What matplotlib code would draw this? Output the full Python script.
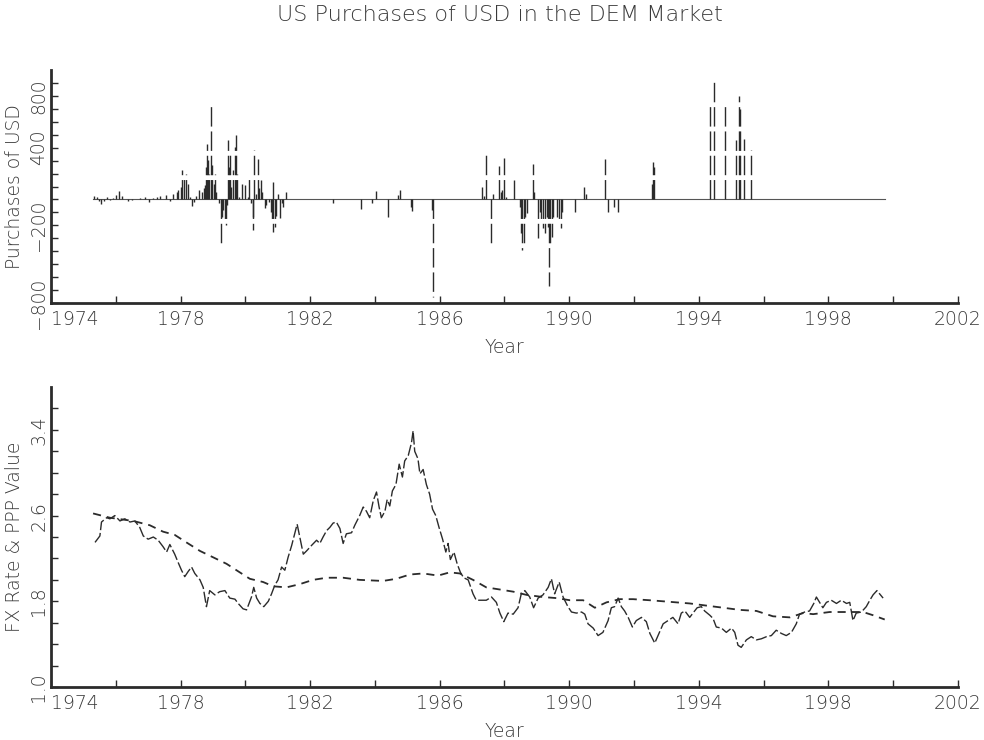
import numpy as np
import matplotlib
matplotlib.use('Agg')
import matplotlib.pyplot as plt

# ---- intervention data (year, purchases of USD, millions) ----
buy_year = [1975.34, 1975.41, 1975.47, 1975.53, 1975.63, 1975.72, 1975.82, 1975.92,
            1976.02, 1976.11, 1976.18, 1976.38, 1976.49, 1976.74, 1976.90, 1977.03,
            1977.16, 1977.26, 1977.36, 1977.54, 1977.67, 1977.77, 1977.88, 1977.93,
            1978.00, 1978.03, 1978.10, 1978.16, 1978.22, 1978.29, 1978.36, 1978.42,
            1978.49, 1978.58, 1978.65, 1978.72, 1978.77, 1978.80, 1978.83, 1978.86,
            1978.89, 1978.94, 1978.98, 1979.03, 1979.07, 1979.11, 1979.19, 1979.24,
            1979.29, 1979.32, 1979.36, 1979.39, 1979.42, 1979.45, 1979.49, 1979.53,
            1979.57, 1979.61, 1979.67, 1979.71, 1979.75, 1979.81, 1979.91, 1979.99,
            1980.07, 1980.11, 1980.16, 1980.23, 1980.25, 1980.27, 1980.32, 1980.39,
            1980.43, 1980.48, 1980.53, 1980.60, 1980.65, 1980.74, 1980.78, 1980.82,
            1980.85, 1980.87, 1980.91, 1980.96, 1981.00, 1981.07, 1981.12, 1981.17,
            1981.25,
            1982.71, 1983.57, 1983.92, 1984.02, 1984.39, 1984.72, 1984.79, 1985.10,
            1985.16, 1985.75, 1985.79,
            1987.31, 1987.36, 1987.42, 1987.59, 1987.66, 1987.82, 1987.88, 1987.93,
            1987.99, 1988.04, 1988.28, 1988.47, 1988.50, 1988.54, 1988.59, 1988.64,
            1988.70, 1988.88, 1988.90, 1989.04, 1989.09, 1989.14, 1989.19, 1989.24,
            1989.30, 1989.35, 1989.38, 1989.42, 1989.47, 1989.50, 1989.62, 1989.69,
            1989.74, 1989.78, 1990.17, 1990.46, 1990.51, 1991.11, 1991.20, 1991.37,
            1991.52, 1992.55, 1992.59, 1992.63,
            1994.34, 1994.47, 1994.82, 1995.16, 1995.24, 1995.27, 1995.41, 1995.62]
buy_amount = [30, 20, -15, -36, -10, 20, -8, 15,
              33, 64, 30, -15, -8, 15, 20, -20,
              10, 20, 25, 36, -10, 46, 59, 72,
              97, 226, 162, 200, 123, 20, -51, -20,
              30, 72, 60, 85, 110, 251, 430, 303,
              200, 726, 264, 120, 200, 60, -31, -351,
              -133, -82, -159, -197, -40, 456, 251, 341,
              97, 226, 405, 495, 200, 20, 123, 110,
              20, 187, -26, -133, -236, 380, 46, 315,
              85, 149, 59, -69, -40, -20, -95, -185,
              136, -249, -210, -130, 46, -146, -30, -56,
              59,
              -31, -77, -31, 64, -133, 33, 72, -56,
              -87, -82, -754,
              97, 30, 340, -364, 46, 256, 60, 72,
              320, 20, 154, -56, -262, -390, -338, -133,
              -108, 277, 59, -300, -100, -159, -223, -262,
              -133, -210, -672, -338, -287, -133, -133, -172,
              -223, -100, -100, 97, 40, 310, -95, -56,
              -95, 123, 290, 251,
              738, 918, 756, 456, 802, 700, 469, 385]
sample_start = 1975.30
sample_end = 1999.74

# ---- DEM/USD exchange rate ----
fx_year = [1975.36, 1975.51, 1975.56, 1975.72, 1975.82, 1975.97, 1976.13, 1976.28,
           1976.44, 1976.59, 1976.74, 1976.85, 1977.00, 1977.16, 1977.31, 1977.46,
           1977.57, 1977.67, 1977.82, 1977.93, 1978.03, 1978.13, 1978.24, 1978.34,
           1978.44, 1978.60, 1978.70, 1978.80, 1978.90, 1979.06, 1979.21, 1979.37,
           1979.52, 1979.68, 1979.78, 1979.93, 1980.04, 1980.19, 1980.26, 1980.35,
           1980.45, 1980.57, 1980.71, 1980.81, 1980.91, 1981.01, 1981.12, 1981.22,
           1981.32, 1981.43, 1981.53, 1981.60, 1981.68, 1981.79, 1981.89, 1982.04,
           1982.20, 1982.30, 1982.40, 1982.51, 1982.61, 1982.71, 1982.81, 1982.92,
           1983.02, 1983.12, 1983.28, 1983.38, 1983.53, 1983.64, 1983.74, 1983.84,
           1983.95, 1984.05, 1984.13, 1984.20, 1984.31, 1984.38, 1984.46, 1984.54,
           1984.65, 1984.75, 1984.85, 1984.92, 1985.03, 1985.13, 1985.18, 1985.23,
           1985.33, 1985.39, 1985.49, 1985.59, 1985.69, 1985.78, 1985.88, 1985.98,
           1986.09, 1986.19, 1986.26, 1986.33, 1986.44, 1986.54, 1986.64, 1986.74,
           1986.88, 1987.03, 1987.13, 1987.29, 1987.44, 1987.60, 1987.75, 1987.86,
           1987.98, 1988.11, 1988.27, 1988.42, 1988.52, 1988.63, 1988.78, 1988.90,
           1989.04, 1989.19, 1989.35, 1989.45, 1989.55, 1989.69, 1989.81, 1989.96,
           1990.07, 1990.22, 1990.38, 1990.48, 1990.58, 1990.74, 1990.89, 1991.04,
           1991.20, 1991.30, 1991.40, 1991.51, 1991.61, 1991.71, 1991.82, 1991.95,
           1992.07, 1992.23, 1992.38, 1992.49, 1992.64, 1992.74, 1992.90, 1993.05,
           1993.20, 1993.36, 1993.46, 1993.57, 1993.72, 1993.82, 1993.95, 1994.08,
           1994.18, 1994.34, 1994.44, 1994.54, 1994.70, 1994.85, 1995.01, 1995.11,
           1995.21, 1995.31, 1995.47, 1995.62, 1995.78, 1995.93, 1996.09, 1996.24,
           1996.39, 1996.55, 1996.70, 1996.86, 1997.01, 1997.11, 1997.27, 1997.42,
           1997.55, 1997.63, 1997.73, 1997.83, 1997.94, 1998.09, 1998.25, 1998.40,
           1998.56, 1998.66, 1998.76, 1998.86, 1999.02, 1999.17, 1999.28, 1999.38,
           1999.50, 1999.58, 1999.69]
fx_rate = [2.35, 2.41, 2.54, 2.58, 2.57, 2.60, 2.55, 2.57,
           2.54, 2.55, 2.49, 2.41, 2.38, 2.40, 2.37, 2.31,
           2.26, 2.33, 2.24, 2.16, 2.09, 2.03, 2.08, 2.12,
           2.06, 2.00, 1.93, 1.75, 1.90, 1.86, 1.89, 1.90,
           1.83, 1.82, 1.78, 1.73, 1.72, 1.84, 1.93, 1.83,
           1.78, 1.75, 1.80, 1.87, 1.95, 2.00, 2.12, 2.09,
           2.21, 2.32, 2.44, 2.52, 2.40, 2.24, 2.27, 2.32,
           2.37, 2.34, 2.40, 2.46, 2.49, 2.53, 2.54, 2.48,
           2.34, 2.43, 2.44, 2.51, 2.60, 2.68, 2.64, 2.58,
           2.74, 2.82, 2.68, 2.58, 2.64, 2.75, 2.69, 2.83,
           2.89, 3.08, 2.96, 3.11, 3.16, 3.28, 3.39, 3.20,
           3.13, 2.99, 3.03, 2.89, 2.80, 2.66, 2.60, 2.49,
           2.38, 2.26, 2.34, 2.19, 2.26, 2.15, 2.07, 2.02,
           2.00, 1.87, 1.81, 1.81, 1.81, 1.84, 1.79, 1.69,
           1.61, 1.69, 1.68, 1.74, 1.87, 1.90, 1.84, 1.74,
           1.83, 1.86, 1.93, 2.01, 1.87, 1.98, 1.84, 1.75,
           1.70, 1.69, 1.70, 1.68, 1.59, 1.55, 1.48, 1.51,
           1.62, 1.74, 1.75, 1.83, 1.75, 1.71, 1.65, 1.56,
           1.62, 1.65, 1.61, 1.50, 1.41, 1.48, 1.59, 1.62,
           1.65, 1.59, 1.69, 1.71, 1.65, 1.69, 1.74, 1.75,
           1.71, 1.67, 1.64, 1.56, 1.55, 1.51, 1.55, 1.51,
           1.39, 1.37, 1.44, 1.47, 1.44, 1.45, 1.47, 1.48,
           1.53, 1.50, 1.48, 1.51, 1.59, 1.68, 1.70, 1.71,
           1.78, 1.84, 1.79, 1.74, 1.79, 1.81, 1.78, 1.81,
           1.78, 1.79, 1.62, 1.69, 1.70, 1.75, 1.81, 1.86,
           1.90, 1.87, 1.83]

# ---- PPP value ----
ppp_year = [1975.30, 1975.82, 1976.54, 1977.05, 1977.46, 1977.82, 1978.18, 1978.60,
            1979.01, 1979.42, 1979.83, 1980.14, 1980.55, 1980.86, 1981.27, 1981.68,
            1982.09, 1982.51, 1983.02, 1983.53, 1984.25, 1984.66, 1985.08, 1985.49,
            1985.95, 1986.31, 1986.62, 1987.03, 1987.44, 1987.86, 1988.27, 1988.68,
            1989.19, 1989.60, 1990.02, 1990.43, 1990.79, 1991.15, 1991.56, 1991.97,
            1992.48, 1992.90, 1993.72, 1994.23, 1994.75, 1995.26, 1995.78, 1996.29,
            1996.81, 1997.22, 1997.53, 1998.04, 1998.56, 1999.07, 1999.38, 1999.74]
ppp_value = [2.62, 2.58, 2.55, 2.51, 2.45, 2.42, 2.35, 2.27,
             2.21, 2.15, 2.07, 2.01, 1.98, 1.94, 1.93, 1.96,
             2.00, 2.02, 2.02, 2.00, 1.99, 2.01, 2.05, 2.06,
             2.04, 2.07, 2.06, 2.00, 1.93, 1.91, 1.89, 1.86,
             1.84, 1.83, 1.81, 1.81, 1.74, 1.79, 1.82, 1.82,
             1.81, 1.80, 1.78, 1.76, 1.74, 1.72, 1.71, 1.66,
             1.65, 1.69, 1.68, 1.70, 1.70, 1.70, 1.67, 1.63]

# ---- axis ticks ----
x_ticks = list(range(1974, 2003, 2))
x_labels = ['1974', '', '1978', '', '1982', '', '1986', '', '1990', '',
            '1994', '', '1998', '', '2002']
top_ticks = list(range(-800, 1000, 100))
top_labels = ['\u2212800', '', '', '', '', '', '\u2212200', '', '', '', '', '', '400',
              '', '', '', '800', '']
bot_ticks = [1.0, 1.2, 1.4, 1.6, 1.8, 2.0, 2.2, 2.4, 2.6, 2.8, 3.0, 3.2, 3.4, 3.6]
bot_labels = ['1.0', '', '', '', '1.8', '', '', '', '2.6', '', '', '', '3.4', '']

ink = '#2b2b2b'
txt = '#3a3a3a'
plt.rcParams['font.family'] = ['DejaVu Sans']
plt.rcParams['font.size'] = 13.5
plt.rcParams['text.color'] = txt
plt.rcParams['axes.labelcolor'] = txt
plt.rcParams['xtick.color'] = ink
plt.rcParams['ytick.color'] = ink
plt.rcParams['xtick.labelcolor'] = txt
plt.rcParams['ytick.labelcolor'] = txt

fig = plt.figure(figsize=(9.84, 7.4), dpi=100)
ax1 = fig.add_axes([0.0518, 0.5905, 0.9217, 0.3149])
ax2 = fig.add_axes([0.0518, 0.0716, 0.9217, 0.4054])


def style_axes(ax, yticks, ylabels):
  for s in ['top', 'right']:
    ax.spines[s].set_visible(False)
  for s in ['left', 'bottom']:
    ax.spines[s].set_linewidth(2.0)
    ax.spines[s].set_color(ink)
  ax.set_xlim(1974, 2002)
  ax.set_xticks(x_ticks)
  ax.set_xticklabels(x_labels, fontweight='light')
  ax.set_yticks(yticks)
  ax.set_yticklabels(ylabels, rotation=90, va='center', fontweight='light')
  ax.tick_params(direction='in', length=5, width=1.0)
  ax.tick_params(axis='x', pad=5)
  ax.tick_params(axis='y', pad=2)
  ax.get_xticklabels()[0].set_horizontalalignment('left')
  ax.set_xlabel('Year', fontweight='light')


# top panel: interventions
ax1.plot([sample_start, sample_end], [0, 0], color='#555555', lw=0.8)
ax1.vlines(buy_year, 0, buy_amount, colors=ink, lw=1.0,
           linestyles=[(0, (14, 3.5))])
ax1.set_ylim(-800, 1000)
style_axes(ax1, top_ticks, top_labels)
ax1.set_ylabel('Purchases of USD', fontweight='light')
ax1.yaxis.set_label_coords(-0.03, 0.5)
ax1.xaxis.set_label_coords(0.5, -0.15)

# bottom panel: FX rate and PPP
ax2.plot(fx_year, fx_rate, color=ink, lw=1.0, linestyle=(0, (8, 2)))
ax2.plot(ppp_year, ppp_value, color=ink, lw=1.3, linestyle=(0, (4.5, 3.3)))
ax2.set_ylim(1.0, 3.8)
style_axes(ax2, bot_ticks, bot_labels)
ax2.set_ylabel('FX Rate & PPP Value', fontweight='light')
ax2.yaxis.set_label_coords(-0.03, 0.5)
ax2.xaxis.set_label_coords(0.5, -0.115)

fig.text(0.508, 1 - 15 / 740, 'US Purchases of USD in the DEM Market',
         ha='center', va='center', fontsize=16, fontweight='light')

plt.savefig('out.png', dpi=100)
